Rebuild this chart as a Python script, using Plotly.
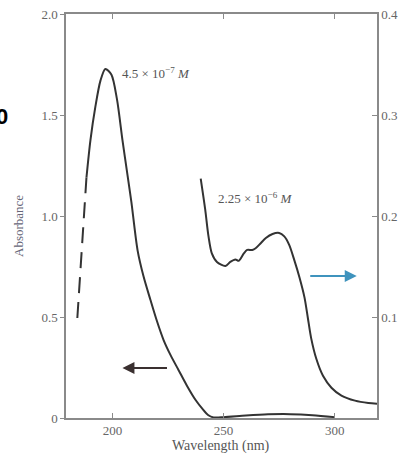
import plotly.graph_objects as go

# Data: 4.5e-7 M spectrum (left axis, absorbance)
wl_dash = [184.2, 186.2, 188.3]
abs_dash = [0.495, 0.84, 1.19]
wl_a = [188.3, 190.1, 192.3, 194.6, 196.8, 199.5, 202.0, 204.5, 206.8, 208.5, 211.3, 214.0,
        217.1, 220.0, 223.0, 226.2, 229.7, 233.5, 237.4, 240.5, 243.0, 245.5, 250, 260,
        270, 280, 290, 300]
abs_a = [1.19, 1.376, 1.54, 1.67, 1.728, 1.70, 1.58, 1.376, 1.20, 1.07, 0.83, 0.70,
         0.584, 0.48, 0.386, 0.31, 0.238, 0.16, 0.089, 0.045, 0.015, 0.003, 0.004, 0.012,
         0.018, 0.019, 0.014, 0.004]

# Data: 2.25e-6 M spectrum (right axis)
wl_b = [239.7, 241.7, 243.2, 244.7, 247.0, 250.8, 253.0, 255.3, 256.8, 259.1, 260.6, 262.9,
        264.4, 266.7, 269.0, 272.0, 275.0, 277.3, 279.5, 281.8, 284.1, 286.4, 287.9, 289.4,
        291.7, 294.7, 298.5, 303.0, 309.1, 315.1, 319.0]
abs_b = [0.2371, 0.2068, 0.1798, 0.1630, 0.1545, 0.1505, 0.1545, 0.1570, 0.1556, 0.1630, 0.1664, 0.1664,
         0.1681, 0.1731, 0.1782, 0.1822, 0.1832, 0.1798, 0.1714, 0.1563, 0.1394, 0.1192, 0.0990, 0.0788,
         0.0586, 0.0418, 0.0300, 0.0222, 0.0172, 0.0148, 0.0141]

x_ticks = [200, 250, 300]
left_ticks = [0, 0.5, 1.0, 1.5, 2.0]
left_labels = ["0", "0.5", "1.0", "1.5", "2.0"]
right_ticks = [0.1, 0.2, 0.3, 0.4]
right_labels = ["0.1", "0.2", "0.3", "0.4"]

label_a = "4.5 × 10<sup>−7</sup> <i>M</i>"
label_b = "2.25 × 10<sup>−6</sup> <i>M</i>"

curve_color = "#333333"
axis_color = "#8a8a8a"
text_color = "#666666"
serif = "Liberation Serif, Times New Roman, serif"

fig = go.Figure()
fig.add_trace(go.Scatter(x=wl_dash, y=abs_dash, mode="lines",
                         line=dict(color=curve_color, width=2, dash="16px,9px"),
                         showlegend=False, hoverinfo="skip"))
fig.add_trace(go.Scatter(x=wl_a, y=abs_a, mode="lines",
                         line=dict(color=curve_color, width=2, shape="spline", smoothing=0.8),
                         showlegend=False))
fig.add_trace(go.Scatter(x=wl_b, y=abs_b, mode="lines", yaxis="y2",
                         line=dict(color=curve_color, width=2, shape="spline", smoothing=0.8),
                         showlegend=False))

fig.update_layout(
    width=401, height=458,
    margin=dict(l=66, r=24, t=14, b=40, autoexpand=False),
    paper_bgcolor="white", plot_bgcolor="white",
    font=dict(family=serif, size=13, color=text_color),
    xaxis=dict(range=[179.1, 319.0], tickvals=x_ticks, ticks="inside", ticklen=5,
               tickcolor=axis_color, showline=True, linecolor=axis_color, linewidth=1.5,
               mirror="ticks", showgrid=False, zeroline=False, automargin=False,
               tickfont=dict(family=serif, size=13, color=text_color)),
    yaxis=dict(range=[0, 2.0], tickvals=left_ticks, ticktext=left_labels, ticks="outside",
               ticklen=4, tickcolor=axis_color, showline=True, linecolor=axis_color,
               linewidth=1.5, showgrid=False, zeroline=False, automargin=False,
               tickfont=dict(family=serif, size=13, color=text_color)),
    yaxis2=dict(range=[0, 0.4], tickvals=right_ticks, ticktext=right_labels, ticks="inside",
                ticklen=5, tickcolor=axis_color, showline=True, linecolor=axis_color,
                linewidth=1.5, showgrid=False, zeroline=False, overlaying="y", side="right",
                automargin=False,
                tickfont=dict(family=serif, size=13, color=text_color)),
)

annotations = [
    dict(x=203.6, y=1.708, xref="x", yref="y", text=label_a, showarrow=False,
         xanchor="left", yanchor="middle", font=dict(family=serif, size=13, color="#555")),
    dict(x=246.4, y=1.089, xref="x", yref="y", text=label_b, showarrow=False,
         xanchor="left", yanchor="middle", font=dict(family=serif, size=13, color="#555")),
    # left arrow (points to left axis)
    dict(x=204.5, y=0.2475, ax=225.2, ay=0.2475, xref="x", yref="y", axref="x", ayref="y",
         showarrow=True, arrowhead=2, arrowsize=1.2, arrowwidth=2, arrowcolor="#3a3030", text=""),
    # right arrow (points to right axis)
    dict(x=309.9, y=0.703, ax=288.3, ay=0.703, xref="x", yref="y", axref="x", ayref="y",
         showarrow=True, arrowhead=2, arrowsize=1.2, arrowwidth=2, arrowcolor="#3f93bd", text=""),
    # axis titles
    dict(x=(18 - 66) / 311, y=(418 - 226) / 404, xref="paper", yref="paper", text="Absorbance",
         textangle=-90, showarrow=False, xanchor="center", yanchor="middle",
         font=dict(family=serif, size=13, color="#667")),
    dict(x=(221 - 66) / 311, y=(418 - 446) / 404, xref="paper", yref="paper",
         text="Wavelength (nm)", showarrow=False, xanchor="center", yanchor="middle",
         font=dict(family=serif, size=14, color="#555")),
    # stray bold glyph at left edge
    dict(x=(10 - 66) / 311, y=(418 - 116) / 404, xref="paper", yref="paper", text="<b>0</b>",
         showarrow=False, xanchor="right", yanchor="middle",
         font=dict(family="Liberation Sans, Arial, sans-serif", size=22, color="black")),
]
fig.update_layout(annotations=annotations)

fig.write_html("out.html", config={"displayModeBar": False},
               post_script="document.body.style.margin='0';document.body.style.overflow='hidden';")
